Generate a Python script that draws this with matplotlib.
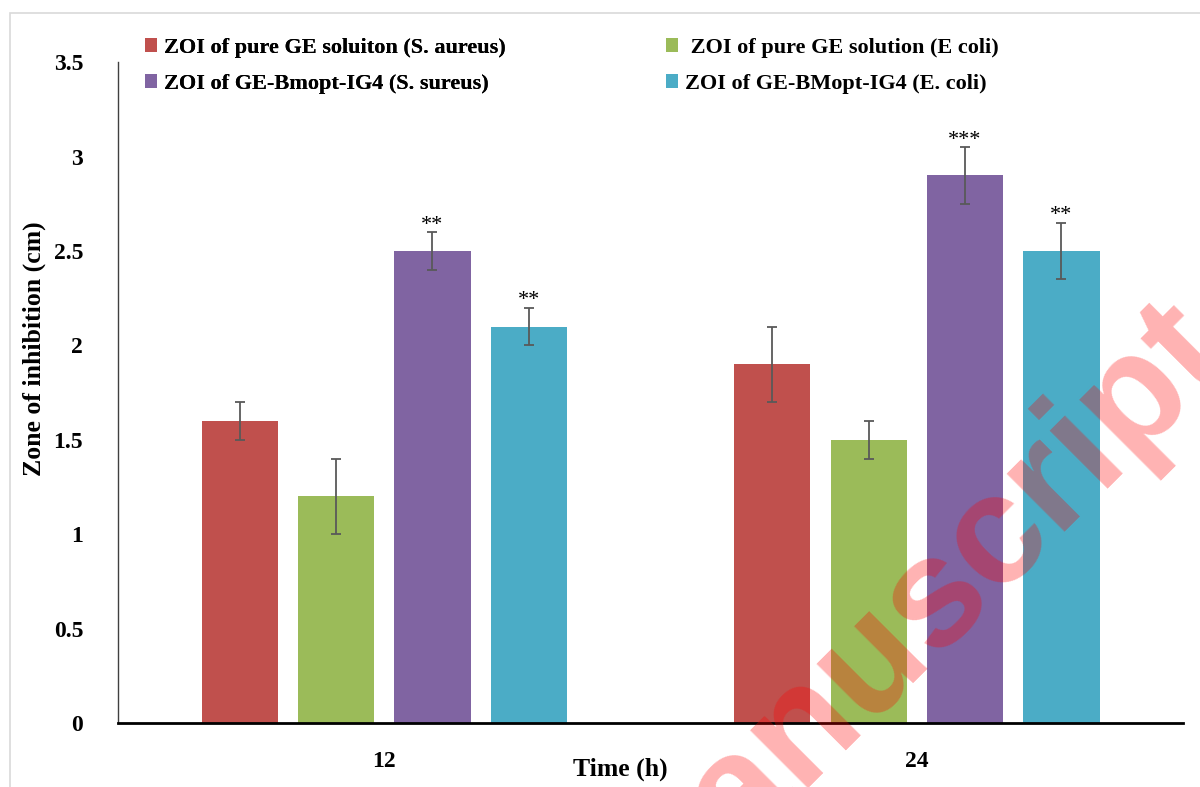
import numpy as np
import matplotlib
matplotlib.use("Agg")
import matplotlib.pyplot as plt
from matplotlib.patches import Patch, Rectangle

plt.rcParams['font.family'] = ['Liberation Serif', 'DejaVu Serif']
plt.rcParams['font.weight'] = 'bold'
plt.rcParams['axes.labelweight'] = 'bold'

# data
times = ["12", "24"]
labels = ["ZOI of pure GE soluiton (S. aureus)",
          " ZOI of pure GE solution (E coli)",
          "ZOI of GE-Bmopt-IG4 (S. sureus)",
          "ZOI of GE-BMopt-IG4 (E. coli)"]
colors = ["#C0504D", "#9BBB59", "#8064A2", "#4BACC6"]
zoi_s_aureus = [1.6, 1.9]
zoi_e_coli = [1.2, 1.5]
zoi_bm_s_aureus = [2.5, 2.9]
zoi_bm_e_coli = [2.1, 2.5]
err_s_aureus = [0.1, 0.2]
err_e_coli = [0.2, 0.1]
err_bm_s_aureus = [0.1, 0.15]
err_bm_e_coli = [0.1, 0.15]
stars_bm_s_aureus = ["**", "***"]
stars_bm_e_coli = ["**", "**"]

series = [zoi_s_aureus, zoi_e_coli, zoi_bm_s_aureus, zoi_bm_e_coli]
errors = [err_s_aureus, err_e_coli, err_bm_s_aureus, err_bm_e_coli]
stars = [None, None, stars_bm_s_aureus, stars_bm_e_coli]

fig = plt.figure(figsize=(12, 7.87), dpi=100)
ax = fig.add_axes([0.0983, 0.0813, 0.8877, 0.8397])

x = np.arange(len(times))
step = 0.181
width = 0.143
for i in range(4):
    pos = x + (i - 1.5) * step
    ax.bar(pos, series[i], width, color=colors[i], zorder=2)
    ax.errorbar(pos, series[i], yerr=errors[i], fmt='none', ecolor='#595959',
                elinewidth=1.3, capsize=3.5, capthick=1.3, zorder=3)
    if stars[i] is not None:
        for j in range(len(times)):
            ax.annotate(stars[i][j], xy=(pos[j], series[i][j] + errors[i][j]),
                        xytext=(0, -2), textcoords='offset points',
                        ha='center', va='bottom', fontsize=16, fontweight='normal')

ax.set_xlim(-0.5, 1.5)
ax.set_ylim(0, 3.5)
ax.set_yticks(np.arange(0, 3.51, 0.5))
ax.set_yticklabels(["0", "0.5", "1", "1.5", "2", "2.5", "3", "3.5"])
ax.set_xticks(x)
ax.set_xticklabels(times)
ax.tick_params(axis='both', length=0, labelsize=17)
ax.tick_params(axis='y', pad=25)
ax.tick_params(axis='x', pad=20)

ax.spines['top'].set_visible(False)
ax.spines['right'].set_visible(False)
ax.spines['left'].set_color('#404040')
ax.spines['left'].set_linewidth(1.0)
ax.spines['bottom'].set_color('black')
ax.spines['bottom'].set_linewidth(2.0)

ax.set_xlabel("Time (h)", fontsize=18.5, fontweight='bold')
ax.xaxis.set_label_coords(0.472, -0.053)
ax.set_ylabel("Zone of inhibition (cm)", fontsize=18.5, fontweight='bold')
ax.yaxis.set_label_coords(-0.068, 0.567)

# legend in two separate columns
h = [Patch(facecolor=c) for c in colors]
leg_kw = dict(loc='upper left', frameon=False, fontsize=16,
              handlelength=0.55, handleheight=0.55, handletextpad=0.3,
              borderpad=0, borderaxespad=0, labelspacing=0.72)
leg1 = fig.legend([h[0], h[2]], [labels[0], labels[2]],
                  bbox_to_anchor=(0.121, 0.952), **leg_kw)
leg2 = fig.legend([h[1], h[3]], [labels[1], labels[3]],
                  bbox_to_anchor=(0.555, 0.952), **leg_kw)
fig.add_artist(leg1)

# light chart-area border
fig.add_artist(Rectangle((10 / 1200, -0.1), 1.2, 1 - 13 / 787 + 0.1,
                         transform=fig.transFigure, fill=False,
                         edgecolor='#d9d9d9', linewidth=1.2))

# red watermark
fig.text(646 / 1200, 1 - 940 / 787, "Manuscript", rotation=45,
         rotation_mode='anchor', ha='left', va='baseline', fontsize=112,
         color='red', alpha=0.3, family='Liberation Sans', fontweight='bold',
         zorder=10)

fig.savefig("out.png", dpi=100)
